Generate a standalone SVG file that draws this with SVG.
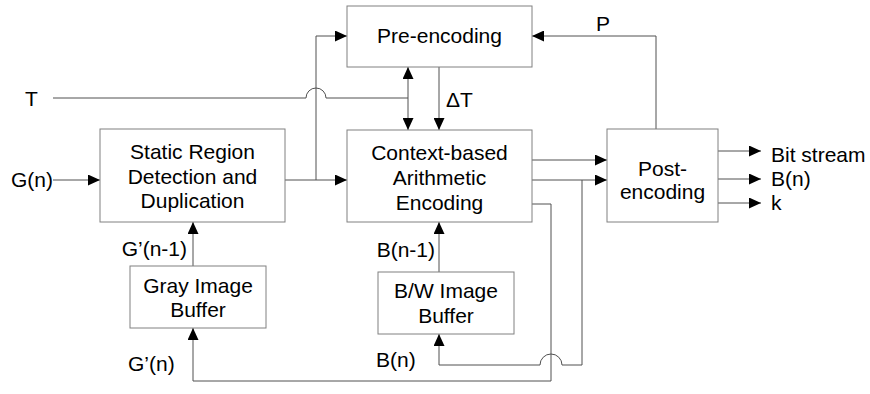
<svg xmlns="http://www.w3.org/2000/svg" width="870" height="394" viewBox="0 0 870 394">
<style>
.box{fill:#fff;stroke:#808080;stroke-width:1}
.ln{fill:none;stroke:#505050;stroke-width:1}
text{font-family:"Liberation Sans",Arial,sans-serif;font-size:21px;fill:#000}
.c{text-anchor:middle}
.e{text-anchor:end}
</style>
<defs>
<marker id="ah" markerUnits="userSpaceOnUse" markerWidth="12" markerHeight="11" refX="12" refY="5.5" orient="auto-start-reverse" viewBox="0 0 12 11">
<path d="M0,0 L12,5.5 L0,11 z" fill="#000"/>
</marker>
</defs>
<rect width="870" height="394" fill="#fff"/>
<g id="connectors">
<path class="ln" d="M53,180 H100" marker-end="url(#ah)"/>
<path class="ln" d="M285,180 H347" marker-end="url(#ah)"/>
<path class="ln" d="M316,180 V36 H347" marker-end="url(#ah)"/>
<path class="ln" d="M53,98 H306 A10,10 0 0 1 326,98 H408"/>
<path class="ln" d="M408,67 V130" marker-start="url(#ah)" marker-end="url(#ah)"/>
<path class="ln" d="M439,67 V130" marker-end="url(#ah)"/>
<path class="ln" d="M656,129 V36 H532" marker-end="url(#ah)"/>
<path class="ln" d="M532,160 H607" marker-end="url(#ah)"/>
<path class="ln" d="M532,180 H607" marker-end="url(#ah)"/>
<path class="ln" d="M532,204 H551 V381 H193 V328" marker-end="url(#ah)"/>
<path class="ln" d="M582,180 V365 H562 A11,11 0 0 0 540,365 H439 V334" marker-end="url(#ah)"/>
<path class="ln" d="M439,272 V222" marker-end="url(#ah)"/>
<path class="ln" d="M193,266 V222" marker-end="url(#ah)"/>
<path class="ln" d="M718,151 H761" marker-end="url(#ah)"/>
<path class="ln" d="M718,179 H761" marker-end="url(#ah)"/>
<path class="ln" d="M718,203 H761" marker-end="url(#ah)"/>
</g>
<g id="pre-encoding">
<rect class="box" x="347" y="6" width="185" height="61"/>
<text class="c" x="439.5" y="43">Pre-encoding</text>
</g>
<g id="context-encoding">
<rect class="box" x="347" y="130" width="185" height="92"/>
<text class="c" x="439.5" y="160">Context-based</text>
<text class="c" x="439.5" y="185">Arithmetic</text>
<text class="c" x="439.5" y="210">Encoding</text>
</g>
<g id="static-region">
<rect class="box" x="100" y="129" width="185" height="93"/>
<text class="c" x="192.5" y="159">Static Region</text>
<text class="c" x="192.5" y="184">Detection and</text>
<text class="c" x="192.5" y="208">Duplication</text>
</g>
<g id="post-encoding">
<rect class="box" x="607" y="129" width="111" height="93"/>
<text class="c" x="662.5" y="176">Post-</text>
<text class="c" x="662.5" y="199">encoding</text>
</g>
<g id="gray-buffer">
<rect class="box" x="130" y="266" width="136" height="62"/>
<text class="c" x="198" y="293">Gray Image</text>
<text class="c" x="198" y="317">Buffer</text>
</g>
<g id="bw-buffer">
<rect class="box" x="378" y="272" width="136" height="62"/>
<text class="c" x="446" y="298">B/W Image</text>
<text class="c" x="446" y="323">Buffer</text>
</g>
<g id="labels">
<text x="11" y="187">G(n)</text>
<text x="25" y="106">T</text>
<text x="446" y="107">ΔT</text>
<text x="596" y="31">P</text>
<text class="e" x="187" y="256">G’(n-1)</text>
<text class="e" x="435" y="257">B(n-1)</text>
<text x="128" y="371">G’(n)</text>
<text x="376" y="367">B(n)</text>
<text x="771" y="162">Bit stream</text>
<text x="771" y="186">B(n)</text>
<text x="771" y="210">k</text>
</g>
</svg>
